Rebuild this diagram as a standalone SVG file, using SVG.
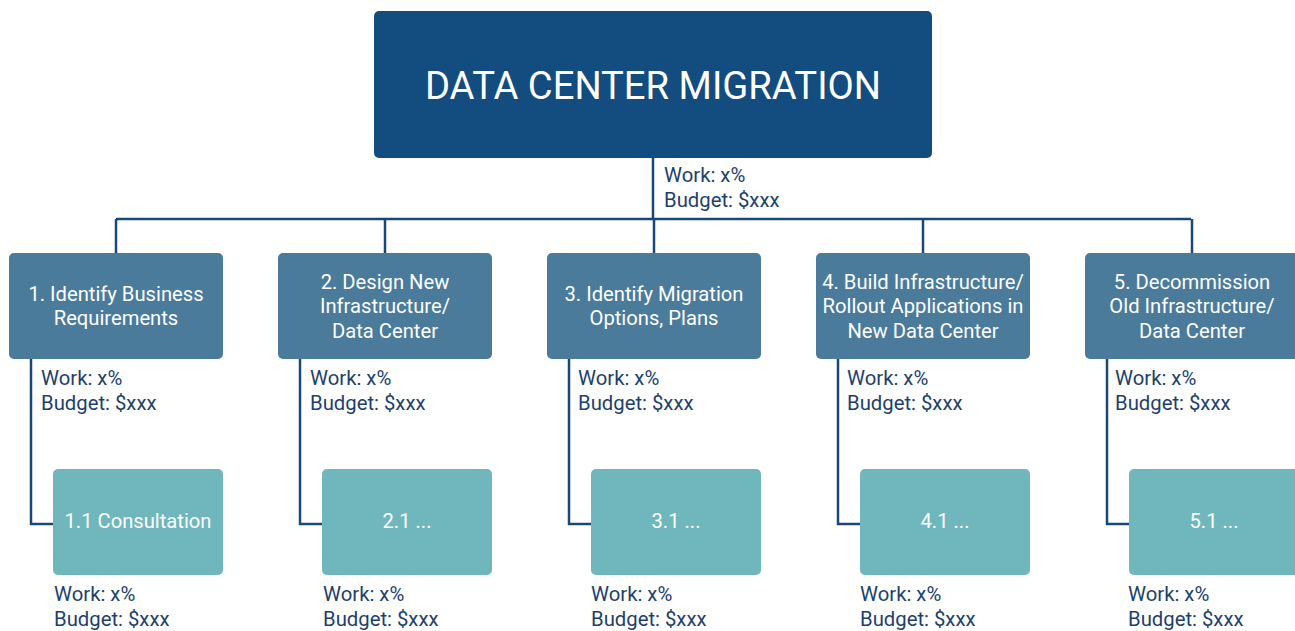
<svg xmlns="http://www.w3.org/2000/svg" width="1295" height="631" viewBox="0 0 1295 631">
<style>
.top{fill:#134c7e}
.l1{fill:#4a7b9b}
.l2{fill:#6fb7bd}
.tt{font-family:Roboto,"Liberation Sans",sans-serif;fill:#ffffff;text-anchor:middle;font-size:20.2px}
.lbl{font-family:Roboto,"Liberation Sans",sans-serif;font-size:20.3px;fill:#1d3f6e}
.con{fill:none;stroke:#1a4778;stroke-width:2.5}
</style>
<rect width="1295" height="631" fill="#ffffff"/>
<g id="connectors">
<path class="con" d="M653 158V219M116 219H1191M116 219V253M385 219V253M654 219V253M923 219V253M1192 219V253"/>
<path class="con" d="M31 359V524H53M300 359V524H322M569 359V524H591M838 359V524H860M1107 359V524H1129"/>
</g>
<g id="root">
<rect class="top" x="374" y="11" width="558" height="147" rx="5"/>
<text class="tt" x="653" y="99" style="font-size:38.2px">DATA CENTER MIGRATION</text>
<text class="lbl" x="664" y="182">Work: x%</text>
<text class="lbl" x="664" y="207">Budget: $xxx</text>
</g>
<g id="n1">
<rect class="l1" x="9" y="253" width="214" height="106" rx="5"/>
<text class="tt" x="116" y="301">1. Identify Business</text>
<text class="tt" x="116" y="325">Requirements</text>
<text class="lbl" x="41" y="385">Work: x%</text>
<text class="lbl" x="41" y="410">Budget: $xxx</text>
</g>
<g id="n2">
<rect class="l1" x="278" y="253" width="214" height="106" rx="5"/>
<text class="tt" x="385" y="289">2. Design New</text>
<text class="tt" x="385" y="313">Infrastructure/</text>
<text class="tt" x="385" y="338">Data Center</text>
<text class="lbl" x="310" y="385">Work: x%</text>
<text class="lbl" x="310" y="410">Budget: $xxx</text>
</g>
<g id="n3">
<rect class="l1" x="547" y="253" width="214" height="106" rx="5"/>
<text class="tt" x="654" y="301">3. Identify Migration</text>
<text class="tt" x="654" y="325">Options, Plans</text>
<text class="lbl" x="578" y="385">Work: x%</text>
<text class="lbl" x="578" y="410">Budget: $xxx</text>
</g>
<g id="n4">
<rect class="l1" x="816" y="253" width="214" height="106" rx="5"/>
<text class="tt" x="923" y="289">4. Build Infrastructure/</text>
<text class="tt" x="923" y="313">Rollout Applications in</text>
<text class="tt" x="923" y="338">New Data Center</text>
<text class="lbl" x="847" y="385">Work: x%</text>
<text class="lbl" x="847" y="410">Budget: $xxx</text>
</g>
<g id="n5">
<rect class="l1" x="1085" y="253" width="214" height="106" rx="5"/>
<text class="tt" x="1192" y="289">5. Decommission</text>
<text class="tt" x="1192" y="313">Old Infrastructure/</text>
<text class="tt" x="1192" y="338">Data Center</text>
<text class="lbl" x="1115" y="385">Work: x%</text>
<text class="lbl" x="1115" y="410">Budget: $xxx</text>
</g>
<g id="n11">
<rect class="l2" x="53" y="469" width="170" height="106" rx="5"/>
<text class="tt" x="138" y="528">1.1 Consultation</text>
<text class="lbl" x="54" y="601">Work: x%</text>
<text class="lbl" x="54" y="626">Budget: $xxx</text>
</g>
<g id="n21">
<rect class="l2" x="322" y="469" width="170" height="106" rx="5"/>
<text class="tt" x="407" y="528">2.1 ...</text>
<text class="lbl" x="323" y="601">Work: x%</text>
<text class="lbl" x="323" y="626">Budget: $xxx</text>
</g>
<g id="n31">
<rect class="l2" x="591" y="469" width="170" height="106" rx="5"/>
<text class="tt" x="676" y="528">3.1 ...</text>
<text class="lbl" x="591" y="601">Work: x%</text>
<text class="lbl" x="591" y="626">Budget: $xxx</text>
</g>
<g id="n41">
<rect class="l2" x="860" y="469" width="170" height="106" rx="5"/>
<text class="tt" x="945" y="528">4.1 ...</text>
<text class="lbl" x="860" y="601">Work: x%</text>
<text class="lbl" x="860" y="626">Budget: $xxx</text>
</g>
<g id="n51">
<rect class="l2" x="1129" y="469" width="170" height="106" rx="5"/>
<text class="tt" x="1214" y="528">5.1 ...</text>
<text class="lbl" x="1128" y="601">Work: x%</text>
<text class="lbl" x="1128" y="626">Budget: $xxx</text>
</g>
</svg>
